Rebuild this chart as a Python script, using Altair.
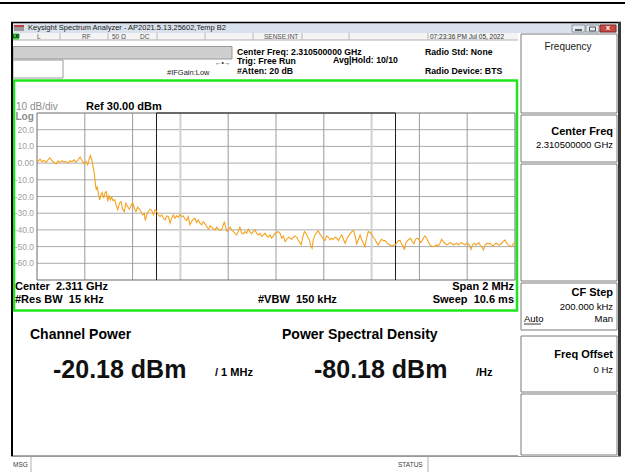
import altair as alt
import pandas as pd

FONT = "Liberation Sans"
NB = "\u00a0"

# ---- instrument state -------------------------------------------------
center_ghz = 2.3105
span_mhz = 2.0
ref_level_dbm = 30.0
db_per_div = 10
divisions = 10
rbw_khz = 15
vbw_khz = 150
sweep_ms = 10.6
atten_db = 20
avg_count = 10
channel_bw_mhz = 1.0
cf_step_khz = 200.0
freq_offset_hz = 0

# ---- measurement results ----------------------------------------------
channel_power_dbm = -20.18
psd_dbm_per_hz = -80.18

# ---- averaged trace: offset from start frequency (kHz) and level (dBm) --
trace_offset_khz = [
    0, 4, 13, 21, 29, 38, 46, 54, 63, 71, 80, 88, 96, 105, 113, 121, 130, 138, 146, 155,
    163, 172, 180, 188, 197, 205, 212, 219, 223, 229, 234, 240, 244, 248, 252, 258, 262, 268, 273, 279,
    285, 290, 296, 301, 307, 312, 318, 325, 331, 338, 345, 352, 358, 365, 372, 379, 386, 393, 400, 407,
    414, 421, 428, 435, 442, 449, 453, 459, 466, 473, 480, 487, 494, 501, 508, 515,
    522, 529, 536, 543, 550, 557, 563, 570, 577, 584, 591, 598, 605, 612, 619, 626, 633, 640, 647, 654,
    661, 668, 675, 682, 689, 696, 703, 710, 717, 724, 731, 738, 745, 752, 759, 766, 773, 780, 784, 789,
    795, 801, 808, 815, 822, 828, 835, 842, 849, 856, 863, 870, 877, 884, 891, 898, 905, 912, 919, 926,
    933, 940, 947, 954, 961, 968, 975, 982, 989, 996, 1003, 1010,
    1017, 1024, 1031, 1038, 1045, 1052, 1059, 1066, 1073, 1080, 1087, 1093, 1100, 1105, 1112, 1119, 1126, 1133, 1140, 1146,
    1151, 1156, 1163, 1170, 1177, 1184, 1191, 1198, 1205, 1212, 1219, 1226, 1233, 1240, 1247, 1254, 1261, 1268, 1275, 1282,
    1289, 1296, 1303, 1310, 1317, 1324, 1331, 1338, 1345, 1352, 1358, 1365, 1372, 1379, 1386, 1393, 1400, 1407, 1414, 1421,
    1428, 1435, 1442, 1449, 1456, 1463, 1470, 1477, 1484, 1491, 1498, 1505, 1512,
    1519, 1526, 1533, 1537, 1543, 1550, 1557, 1563, 1570, 1577, 1584, 1591, 1598, 1605, 1612, 1619, 1623, 1630, 1637, 1644,
    1651, 1658, 1665, 1672, 1679, 1686, 1693, 1700, 1707, 1714, 1721, 1728, 1735, 1742, 1749, 1756, 1763, 1770, 1777, 1784,
    1791, 1798, 1805, 1812, 1816, 1822, 1829, 1835, 1842, 1849, 1856, 1863, 1868, 1875, 1882, 1888, 1895, 1902, 1909, 1916,
    1923, 1930, 1937, 1944, 1951, 1958, 1965, 1972, 1979, 1986, 1993, 2000,
]
trace_level_dbm = [
    2.0, 1.0, 2.4, 0.8, 1.6, 0.4, 2.0, 3.2, 1.4, 0.4, -0.4, 1.2, 0.4, 1.4, 0.6, 1.0, 0.0, 1.4, 0.8, 2.0,
    0.4, 2.0, 3.6, 1.6, -0.4, 1.0, -1.0, 3.0, 4.6, 2.0, -2.0, -6.4, -12.0, -16.0, -14.4, -19.0, -22.0, -19.0, -17.6, -21.0,
    -17.6, -17.0, -23.0, -19.6, -22.0, -20.4, -22.4, -22.0, -25.0, -28.0, -24.0, -23.0, -27.6, -29.0, -24.0, -26.0, -27.6, -25.6, -23.6, -27.0,
    -29.0, -26.4, -27.6, -29.0, -31.0, -30.0, -34.4, -31.0, -29.0, -27.6, -28.4, -31.0, -28.0, -29.0, -31.0, -32.0,
    -31.0, -33.0, -34.0, -31.6, -32.0, -36.0, -33.0, -31.0, -33.0, -31.6, -32.4, -30.6, -32.0, -31.6, -33.6, -34.4, -32.0, -37.0, -35.0, -33.6,
    -33.0, -35.6, -34.0, -36.0, -37.0, -35.0, -36.4, -38.0, -39.6, -37.6, -38.4, -39.2, -40.0, -38.4, -39.6, -40.4, -39.6, -37.0, -35.0, -38.4,
    -41.0, -39.6, -38.4, -40.0, -41.0, -42.0, -43.0, -41.0, -38.4, -41.6, -42.4, -41.0, -42.0, -39.6, -41.2, -42.4, -41.0, -40.0, -42.0, -43.0,
    -42.0, -44.0, -43.0, -42.0, -43.6, -44.4, -43.0, -45.0, -43.6, -42.0, -41.6, -41.0,
    -42.0, -45.0, -43.6, -47.0, -45.6, -44.4, -45.0, -45.6, -44.4, -43.6, -44.4, -46.0, -47.6, -49.0, -44.4, -41.0, -42.0, -44.4, -46.0, -50.0,
    -51.0, -46.0, -43.0, -41.6, -40.6, -42.4, -44.0, -45.6, -46.4, -43.6, -44.4, -46.0, -45.0, -45.6, -44.4, -45.0, -46.4, -44.4, -43.0, -45.6,
    -48.0, -45.6, -43.6, -42.4, -41.0, -40.4, -43.6, -48.4, -45.6, -43.0, -45.6, -48.0, -50.0, -45.0, -41.0, -41.6, -42.4, -44.4, -45.6, -47.6,
    -49.0, -47.0, -45.6, -46.4, -46.4, -47.6, -48.4, -49.0, -49.6, -49.0, -49.0, -48.0, -46.4,
    -46.4, -48.4, -50.0, -52.0, -48.0, -46.4, -45.6, -45.0, -47.0, -48.4, -45.6, -45.0, -45.6, -47.6, -46.4, -44.4, -43.6, -45.0, -47.0, -49.0,
    -49.6, -50.0, -49.6, -49.0, -49.6, -48.0, -45.6, -47.0, -48.0, -49.0, -48.4, -47.6, -48.0, -49.0, -48.4, -48.0, -49.0, -48.0, -47.6, -48.4,
    -49.0, -48.0, -48.4, -50.0, -51.6, -49.0, -48.0, -49.0, -48.4, -47.6, -49.6, -50.4, -52.0, -49.0, -48.0, -48.4, -48.0, -49.0, -49.6, -48.4,
    -48.0, -49.0, -49.0, -48.0, -47.0, -46.0, -48.0, -49.0, -49.6, -50.0, -48.4, -47.6,
]

# ---- derived sweep geometry ---------------------------------------------
center_mhz = center_ghz * 1000
start_mhz = center_mhz - span_mhz / 2
stop_mhz = center_mhz + span_mhz / 2
bottom_dbm = ref_level_dbm - db_per_div * divisions

fx = alt.Scale(domain=[start_mhz, stop_mhz], range=[37, 515], nice=False, zero=False)
fy = alt.Scale(domain=[bottom_dbm, ref_level_dbm], range=[280, 113], nice=False, zero=False)


def FX(field):
    return alt.X(field, type="quantitative", scale=fx, axis=None)


def LY(field):
    return alt.Y(field, type="quantitative", scale=fy, axis=None)


trace = pd.DataFrame({
    "freq": [start_mhz + k / 1000 for k in trace_offset_khz],
    "level": trace_level_dbm,
})

vgrid = pd.DataFrame({
    "freq": [start_mhz + i * span_mhz / divisions for i in range(1, divisions)],
    "light": [i in (3, 7) for i in range(1, divisions)],
})
vgrid["lo"] = bottom_dbm
vgrid["hi"] = ref_level_dbm

levels = [ref_level_dbm - db_per_div * i for i in range(1, divisions)]
hgrid = pd.DataFrame({"level": levels, "f0": start_mhz, "f1": stop_mhz})
hgrid["label"] = ["0.00" if v == 0 else f"{v:.1f}" for v in levels]

frame = pd.DataFrame({"f0": [start_mhz], "f1": [stop_mhz], "lo": [bottom_dbm], "hi": [ref_level_dbm]})
chan = pd.DataFrame({"freq": [center_mhz - channel_bw_mhz / 2, center_mhz + channel_bw_mhz / 2]})
chan["lo"] = bottom_dbm
chan["hi"] = ref_level_dbm
chan_top = pd.DataFrame({"f0": [center_mhz - channel_bw_mhz / 2], "f1": [center_mhz + channel_bw_mhz / 2],
                         "level": [ref_level_dbm]})

one = pd.DataFrame({"k": [0]})


def txt(s, x, y, size=9.0, bold=False, color="#000000", align="left", font=FONT):
    return alt.Chart(one).mark_text(
        text=s, font=font, fontSize=size, fontWeight="bold" if bold else "normal",
        color=color, align=align, baseline="middle",
    ).encode(x=alt.value(x), y=alt.value(y))


def box(x, y, x2, y2, fill="#ffffff", stroke=None, sw=1.0, opacity=1.0):
    kw = dict(fill=fill, fillOpacity=opacity)
    if stroke:
        kw.update(stroke=stroke, strokeWidth=sw)
    return alt.Chart(one).mark_rect(**kw).encode(
        x=alt.value(x), x2=alt.value(x2), y=alt.value(y), y2=alt.value(y2))


def hline(x, x2, y, color, w=1.0):
    return alt.Chart(one).mark_rule(color=color, strokeWidth=w).encode(
        x=alt.value(x), x2=alt.value(x2), y=alt.value(y))


def vline(x, y, y2, color, w=1.0):
    return alt.Chart(one).mark_rule(color=color, strokeWidth=w).encode(
        x=alt.value(x), y=alt.value(y), y2=alt.value(y2))


layers = []

# page rule above the window
layers.append(box(0, 2, 625, 4, fill="#000000"))

# window title bar
layers += [
    box(11, 22, 621, 33, fill="#d9e2ec"),
    hline(11, 621, 22.5, "#000000", 1.5),
    box(14, 25, 24, 31, fill="#9a9a9a"),
    box(14, 25, 24, 27, fill="#c04040"),
    txt("Keysight Spectrum Analyzer - AP2021.5.13,25602,Temp B2", 28, 28, 7.5, color="#1a1a1a"),
    box(572, 25, 585, 32, fill="#e4e9ef", stroke="#8a96a3"),
    hline(575, 582, 30, "#333333", 1.5),
    box(586, 25, 599, 32, fill="#e4e9ef", stroke="#8a96a3"),
    box(589.5, 27, 595.5, 31, fill="#e4e9ef", stroke="#333333", sw=0.8),
    box(600, 25, 616, 32, fill="#c9473f", stroke="#7a2a25"),
    txt("x", 608, 28, 8, bold=True, color="#ffffff", align="center"),
]

# status strip
layers += [
    box(13, 33, 518, 40, fill="#f4f4f4"),
    hline(13, 518, 40, "#b0b0b0"),
    box(13, 33.5, 19, 39.5, fill="#33cc33"),
    txt("LXI", 16, 36.6, 4.5, bold=True, align="center"),
    txt("L", 37, 36.6, 6.5, color="#505050"),
    txt("RF", 82, 36.6, 6.5, color="#505050"),
    txt("50 \u03a9", 112, 36.6, 6.5, color="#505050"),
    txt("DC", 140, 36.6, 6.5, color="#505050"),
    txt("SENSE:INT", 264, 36.6, 6.5, color="#505050"),
    txt("07:23:36 PM Jul 05, 2022", 430, 36.6, 6.5, color="#303030"),
]
for sx in (60, 108, 157, 205, 253, 302, 349, 428):
    layers.append(vline(sx, 33, 40, "#b8b8b8"))

# settings header
layers += [
    box(13, 46.5, 232, 59, fill="#cfcfcf", stroke="#9a9a9a"),
    box(13, 60, 63, 78, fill="#ffffff", stroke="#9a9a9a"),
    txt("\u2190\u2022\u2192", 215, 62.5, 6.5, color="#222222"),
    txt("#IFGain:Low", 167, 72.5, 7.5, color="#222222"),
    txt(f"Center Freq: {center_ghz:.9f} GHz", 237, 51.5, 8.7, bold=True),
    txt("Trig: Free Run", 237, 60.5, 8.7, bold=True),
    txt(f"Avg|Hold: {avg_count}/{avg_count}", 333, 59.5, 8.7, bold=True),
    txt(f"#Atten: {atten_db} dB", 237, 70.5, 8.7, bold=True),
    txt("Radio Std: None", 425, 51.5, 8.7, bold=True),
    txt("Radio Device: BTS", 425, 70.5, 8.7, bold=True),
]

# plot annotations
layers += [
    txt(f"{db_per_div} dB/div", 16, 107, 10, color="#8c8c8c"),
    txt(f"Ref {ref_level_dbm:.2f} dBm", 86, 106.5, 11, bold=True),
    txt("Log", 15.5, 117, 10, color="#8c8c8c", bold=True),
]

# graticule, channel band and trace
layers += [
    alt.Chart(hgrid).mark_rule(color="#ababab", strokeWidth=1).encode(y=LY("level"), x=FX("f0"), x2="f1"),
    alt.Chart(vgrid[~vgrid["light"]]).mark_rule(color="#9c9c9c", strokeWidth=1).encode(x=FX("freq"), y=LY("lo"), y2="hi"),
    alt.Chart(vgrid[vgrid["light"]]).mark_rule(color="#d2d2d2", strokeWidth=2).encode(x=FX("freq"), y=LY("lo"), y2="hi"),
    alt.Chart(frame).mark_rect(fillOpacity=0, stroke="#6c6c6c", strokeWidth=1).encode(
        x=FX("f0"), x2="f1", y=LY("lo"), y2="hi"),
    alt.Chart(chan).mark_rule(color="#1e1e1e", strokeWidth=1).encode(x=FX("freq"), y=LY("lo"), y2="hi"),
    alt.Chart(chan_top).mark_rule(color="#1e1e1e", strokeWidth=1.2).encode(x=FX("f0"), x2="f1", y=LY("level")),
    alt.Chart(hgrid).mark_text(align="right", baseline="middle", font=FONT, fontSize=8.5, color="#a0a0a0").encode(
        x=alt.value(34), y=LY("level"), text="label:N"),
    alt.Chart(trace).mark_line(color="#f5a21e", strokeWidth=1.1).encode(x=FX("freq"), y=LY("level")),
]

# sweep settings under the graticule
layers += [
    txt(f"Center{NB}{NB}{center_ghz:.3f} GHz", 15, 287, 11, bold=True),
    txt(f"#Res BW{NB}{NB}{rbw_khz} kHz", 15, 300, 11, bold=True),
    txt(f"#VBW{NB}{NB}{vbw_khz} kHz", 258, 300, 11, bold=True),
    txt(f"Span {span_mhz:g} MHz", 514, 287, 11, bold=True, align="right"),
    txt(f"Sweep{NB}{NB}{sweep_ms} ms", 514, 300, 11, bold=True, align="right"),
]

# green active-window frame
layers.append(box(14, 80.5, 517, 310.5, fill="#ffffff", stroke="#1ee61e", sw=2.5, opacity=0))

# measurement results
layers += [
    hline(13, 518, 455.5, "#a8a8a8"),
    txt("Channel Power", 30, 335, 14, bold=True),
    txt("Power Spectral Density", 282, 335, 14, bold=True),
    txt(f"{channel_power_dbm:.2f} dBm", 53, 370, 25, bold=True, color="#111111"),
    txt(f"/ {channel_bw_mhz:g} MHz", 215, 373, 11, bold=True),
    txt(f"{psd_dbm_per_hz:.2f} dBm", 314, 370, 25, bold=True, color="#111111"),
    txt("/Hz", 476, 373, 11, bold=True),
]

# softkey panel
panel = [(34, 113), (115, 162), (164, 281), (283, 330), (336, 392), (394, 455)]
for y0, y1 in panel:
    layers.append(box(521, y0, 617, y1, fill="#ffffff", stroke="#7a7a7a", sw=1))
layers += [
    txt("Frequency", 568, 47, 10, color="#1a1a1a", align="center"),
    txt("Center Freq", 613, 131.5, 11, bold=True, align="right"),
    txt(f"{center_ghz:.9f} GHz", 613, 145, 9.5, align="right"),
    txt("CF Step", 613, 293, 11, bold=True, align="right"),
    txt(f"{cf_step_khz:.3f} kHz", 613, 306.5, 9.5, align="right"),
    txt("Auto", 524, 318.5, 9.5),
    hline(524, 541, 324, "#000000", 0.8),
    txt("Man", 613, 318.5, 9.5, align="right"),
    txt("Freq Offset", 613, 355, 11, bold=True, align="right"),
    txt(f"{freq_offset_hz} Hz", 613, 370, 9.5, align="right"),
]

# window borders
layers += [
    vline(12, 22, 456, "#000000", 2),
    vline(619.5, 22, 456, "#3a3a3a", 3),
]

# message / status bar
layers += [
    hline(11, 621, 456.5, "#9a9a9a"),
    vline(31, 457, 472, "#b0b0b0"),
    vline(428, 457, 472, "#b0b0b0"),
    txt("MSG", 13, 465, 6.5, color="#404040"),
    txt("STATUS", 398, 465, 6.5, color="#404040"),
]

chart = alt.layer(*layers).properties(
    width=625, height=472, padding=0, background="#ffffff",
    autosize=alt.AutoSizeParams(type="none"),
).configure_view(stroke=None)

chart.save("out.html", embed_options={"renderer": "svg", "actions": False})
